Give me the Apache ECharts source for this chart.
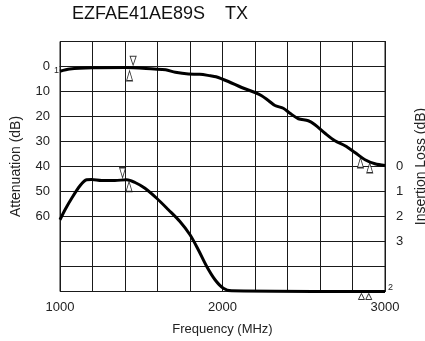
<!DOCTYPE html>
<html>
<head>
<meta charset="utf-8">
<script src="https://cdn.jsdelivr.net/npm/echarts@6/dist/echarts.min.js"></script>
<style>
html,body{margin:0;padding:0;background:#fff;}
#chart{width:425px;height:341px;}
</style>
</head>
<body>
<div id="chart"></div>
<script>
// Attenuation curve (left axis, dB)
const freqAtt = [1000,1060,1200,1400,1580,1650,1710,1790,1860,1925,1960,2036,2118,2200,2241,2282,2323,2374,2415,2467,2528,2569,2631,2692,2754,2815,2877,2938,3000];
const attVals = [1.9,1.0,0.5,0.4,1.0,1.3,2.3,3.0,3.1,3.7,4.1,6.0,8.4,10.4,11.7,13.6,15.6,16.7,18.7,20.9,21.7,23.3,26.7,29.7,31.7,34.4,37.3,38.9,39.6];
// Insertion loss curve (right axis, dB)
const freqIL = [1000,1031,1072,1123,1164,1195,1256,1338,1410,1462,1523,1595,1667,1738,1800,1851,1903,1954,2005,2056,3000];
const ilVals = [2.13,1.73,1.27,0.77,0.53,0.52,0.56,0.56,0.53,0.64,0.87,1.27,1.73,2.2,2.73,3.33,4.0,4.53,4.87,4.97,5.0];
// Marker triangles
const attDownMarks = [[1450,-2.3]];
const attUpMarks = [[1428,3.7],[2849,38.5],[2906,40.5]];
const ilDownMarks = [[1385,0.25]];
const ilUpMarks = [[1425,0.8]];
const ilBottomMarks = [[2855,5.2],[2900,5.2]];
// Tick labels
const xLabels = [1000,2000,3000];
const attLabels = [0,10,20,30,40,50,60];
const ilLabels = [0,1,2,3];

const FONT = 'Liberation Sans, Arial, Helvetica, sans-serif';
const TXT = '#222';
const GRID = '#1a1a1a';

const chart = echarts.init(document.getElementById('chart'), null, {renderer:'canvas'});
const pair = (xs, ys) => xs.map((x,i)=>[x, ys[i]]);

const triStyle = {color:'#fff', borderColor:'#000', borderWidth:1};

chart.setOption({
  animation:false,
  backgroundColor:'#fff',
  grid:{left:60, top:41.5, width:325, height:250, show:true, borderColor:GRID, borderWidth:1,
        containLabel:false, outerBoundsMode:'none'},
  graphic:[
    {type:'text', left:72, top:5, style:{text:'EZFAE41AE89S    TX', font:'18px '+FONT, fill:'#111'}},
    {type:'text', x:54, y:71, style:{text:'1', font:'9px '+FONT, fill:TXT, verticalAlign:'middle'}},
    {type:'text', x:388, y:288, style:{text:'2', font:'9px '+FONT, fill:TXT, verticalAlign:'middle'}}
  ],
  xAxis:{
    type:'value', min:1000, max:3000, interval:200,
    name:'Frequency (MHz)', nameLocation:'middle', nameGap:31,
    nameTextStyle:{fontFamily:FONT, fontSize:13, color:TXT},
    axisLine:{show:true, lineStyle:{color:GRID, width:1}},
    axisTick:{show:false},
    axisLabel:{fontFamily:FONT, fontSize:13, color:TXT, margin:9,
      formatter:v => xLabels.indexOf(v) >= 0 ? String(v) : ''},
    splitLine:{show:true, lineStyle:{color:GRID, width:1}}
  },
  yAxis:[
    {type:'value', min:-10, max:90, interval:10, inverse:true, position:'left',
     name:'Attenuation (dB)', nameLocation:'middle', nameGap:37,
     nameTextStyle:{fontFamily:FONT, fontSize:14, color:TXT},
     axisLine:{show:true, lineStyle:{color:GRID, width:1}},
     axisTick:{show:false},
     axisLabel:{fontFamily:FONT, fontSize:13, color:TXT, margin:10,
       formatter:v => attLabels.indexOf(v) >= 0 ? String(v) : ''},
     splitLine:{show:true, lineStyle:{color:GRID, width:1}}
    },
    {type:'value', min:-5, max:5, interval:1, inverse:true, position:'right',
     name:'Insertion Loss (dB)', nameLocation:'middle', nameGap:25,
     nameTextStyle:{fontFamily:FONT, fontSize:14, color:TXT},
     axisLine:{show:true, lineStyle:{color:GRID, width:1}},
     axisTick:{show:false},
     axisLabel:{fontFamily:FONT, fontSize:13, color:TXT, margin:11,
       formatter:v => ilLabels.indexOf(v) >= 0 ? String(v) : ''},
     splitLine:{show:false}
    }
  ],
  series:[
    {type:'line', yAxisIndex:0, data:pair(freqAtt, attVals), smooth:0.3, showSymbol:false, clip:false,
     lineStyle:{color:'#000', width:3}},
    {type:'line', yAxisIndex:1, data:pair(freqIL, ilVals), smooth:0.3, showSymbol:false, clip:false,
     lineStyle:{color:'#000', width:3}},
    {type:'scatter', yAxisIndex:0, data:attDownMarks, symbol:'triangle', symbolRotate:180, symbolSize:[6,9], clip:false, itemStyle:triStyle, z:5},
    {type:'scatter', yAxisIndex:0, data:attUpMarks, symbol:'triangle', symbolSize:[6,10], clip:false, itemStyle:triStyle, z:5},
    {type:'scatter', yAxisIndex:1, data:ilDownMarks, symbol:'triangle', symbolRotate:180, symbolSize:[6,10], clip:false, itemStyle:triStyle, z:5},
    {type:'scatter', yAxisIndex:1, data:ilUpMarks, symbol:'triangle', symbolSize:[6,10], clip:false, itemStyle:triStyle, z:5},
    {type:'scatter', yAxisIndex:1, data:ilBottomMarks, symbol:'triangle', symbolSize:[6,6], clip:false, itemStyle:triStyle, z:5}
  ]
});
</script>
</body>
</html>
